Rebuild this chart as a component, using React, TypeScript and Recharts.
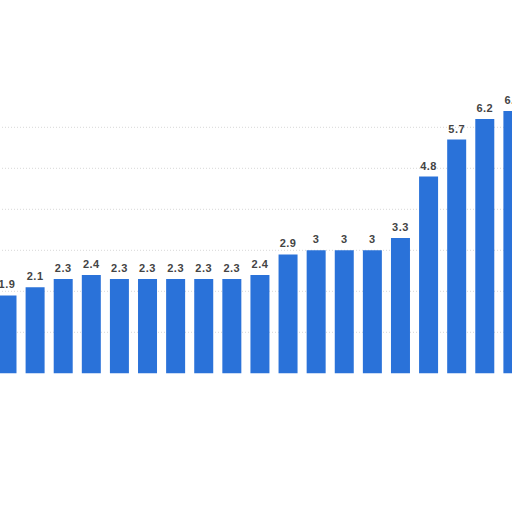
import React from "react";
import { BarChart, Bar, XAxis, YAxis, CartesianGrid, LabelList } from "recharts";

const categories = [
  "2004", "2005", "2006", "2007", "2008", "2009", "2010", "2011", "2012", "2013",
  "2014", "2015", "2016", "2017", "2018", "2019", "2020", "2021", "2022",
];
const values = [1.9, 2.1, 2.3, 2.4, 2.3, 2.3, 2.3, 2.3, 2.3, 2.4, 2.9, 3, 3, 3, 3.3, 4.8, 5.7, 6.2, 6.4];
const yTicks = [0, 1, 2, 3, 4, 5, 6];
const gridValues = [1, 2, 3, 4, 5, 6];

const data = categories.map((c, i) => ({ name: c, value: values[i] }));

export default function App() {
  return (
    <div style={{ position: "fixed", left: 0, top: 0, width: 512, height: 512, overflow: "hidden", background: "#fff" }}>
      <div style={{ position: "absolute", left: -6.65, top: 0 }}>
        <BarChart
          width={534}
          height={512}
          data={data}
          margin={{ top: 45.3, right: 0, bottom: 138.7, left: 0 }}
          barCategoryGap="16%"
        >
          <CartesianGrid vertical={false} horizontalValues={gridValues} stroke="#d8d8d8" strokeDasharray="1 2" />
          <XAxis dataKey="name" height={0} tick={false} tickLine={false} axisLine={{ stroke: "#222", strokeWidth: 1 }} />
          <YAxis hide width={0} domain={[0, 8]} ticks={yTicks} />
          <Bar dataKey="value" fill="#2a72d9" isAnimationActive={false}>
            <LabelList
              dataKey="value"
              position="top"
              offset={7}
              style={{ fill: "#444", fontSize: 11, fontWeight: 700, letterSpacing: 0.5, fontFamily: "Liberation Sans, Arial, sans-serif" }}
            />
          </Bar>
        </BarChart>
      </div>
    </div>
  );
}
